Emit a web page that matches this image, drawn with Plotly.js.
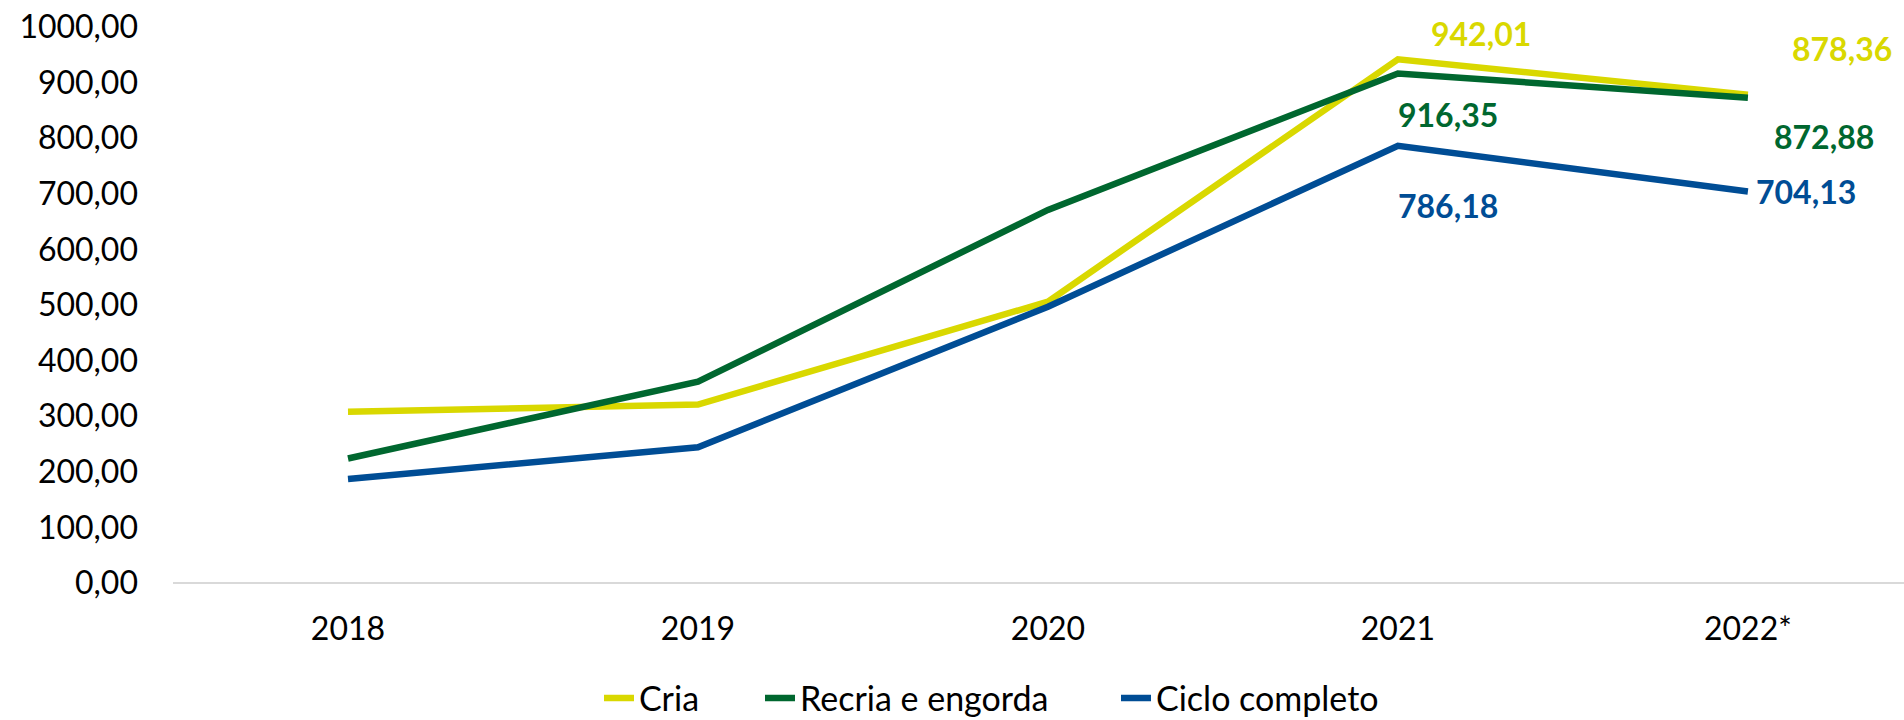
<!DOCTYPE html>
<html>
<head>
<meta charset="utf-8">
<script src="https://cdn.plot.ly/plotly-3.0.1.min.js"></script>
<style>
  html, body { margin: 0; padding: 0; background: #fff; }
  #chart { width: 1904px; height: 720px; }
</style>
</head>
<body>
<div id="chart"></div>
<script>
// ---- data ----
const categories = ["2018", "2019", "2020", "2021", "2022*"];
const seriesNames = ["Cria", "Recria e engorda", "Ciclo completo"];
const cria = [308, 321, 506, 942.01, 878.36];
const recria = [224, 362, 671, 916.35, 872.88];
const ciclo = [187, 244, 497, 786.18, 704.13];
// indices of points that carry a data label
const labelledPoints = [3, 4];

// ---- styles ----
const colors = ["#D9D800", "#00672F", "#004D95"];
const FONT = "Lato, 'Open Sans', sans-serif";
// label offsets in pixels [series][labelled point] -> [dx, dy]
const labelOffsets = [
  [[83, 26], [94, 46]],
  [[50, -41], [76, -39]],
  [[50, -60], [58, 0]]
];
// legend placement (container fraction) for each series
const legendIds = ["legend", "legend2", "legend3"];
const legendX = [599 / 1904, 760 / 1904, 1116 / 1904];

const allSeries = [cria, recria, ciclo];
const xIdx = categories.map((_, i) => i);

const traces = allSeries.map((vals, s) => ({
  type: "scatter",
  mode: "lines",
  name: seriesNames[s],
  legend: legendIds[s],
  x: xIdx,
  y: vals,
  line: { color: colors[s], width: 6.5 },
  hoverinfo: "skip"
}));

const fmt = v => v.toFixed(2).replace(".", ",");

const annotations = [];
allSeries.forEach((vals, s) => {
  labelledPoints.forEach((p, k) => {
    annotations.push({
      x: p, y: vals[p], xref: "x", yref: "y",
      text: "<b>" + fmt(vals[p]) + "</b>",
      showarrow: false,
      xshift: labelOffsets[s][k][0],
      yshift: labelOffsets[s][k][1],
      font: { family: FONT, size: 32, color: colors[s] },
      xanchor: "center", yanchor: "middle"
    });
  });
});

const layout = {
  width: 1904, height: 720,
  margin: { l: 173, r: 0, t: 27, b: 137 },
  paper_bgcolor: "#fff", plot_bgcolor: "#fff",
  separators: ",.",
  font: { family: FONT, size: 32, color: "#000" },
  showlegend: true,
  xaxis: {
    range: [-0.5, 4.446],
    tickmode: "array",
    tickvals: xIdx,
    ticktext: categories,
    showgrid: false,
    zeroline: false,
    showline: false,
    ticks: "",
    ticklabelstandoff: 24,
    tickfont: { family: FONT, size: 32, color: "#000" },
    fixedrange: true,
    automargin: false
  },
  yaxis: {
    range: [0, 1000],
    dtick: 100,
    tickformat: ".2f",
    showgrid: false,
    zeroline: true,
    zerolinecolor: "#D9D9D9",
    zerolinewidth: 2,
    showline: false,
    ticks: "",
    ticklabelstandoff: 34,
    tickfont: { family: FONT, size: 32, color: "#000" },
    fixedrange: true,
    automargin: false
  },
  annotations: annotations
};

legendIds.forEach((id, s) => {
  layout[id] = {
    orientation: "h",
    xref: "container", yref: "container",
    x: legendX[s], xanchor: "left",
    y: 0.03, yanchor: "middle",
    bgcolor: "rgba(0,0,0,0)",
    font: { family: FONT, size: 34, color: "#000" }
  };
});

Plotly.newPlot("chart", traces, layout, { staticPlot: true, displayModeBar: false });
</script>
</body>
</html>
